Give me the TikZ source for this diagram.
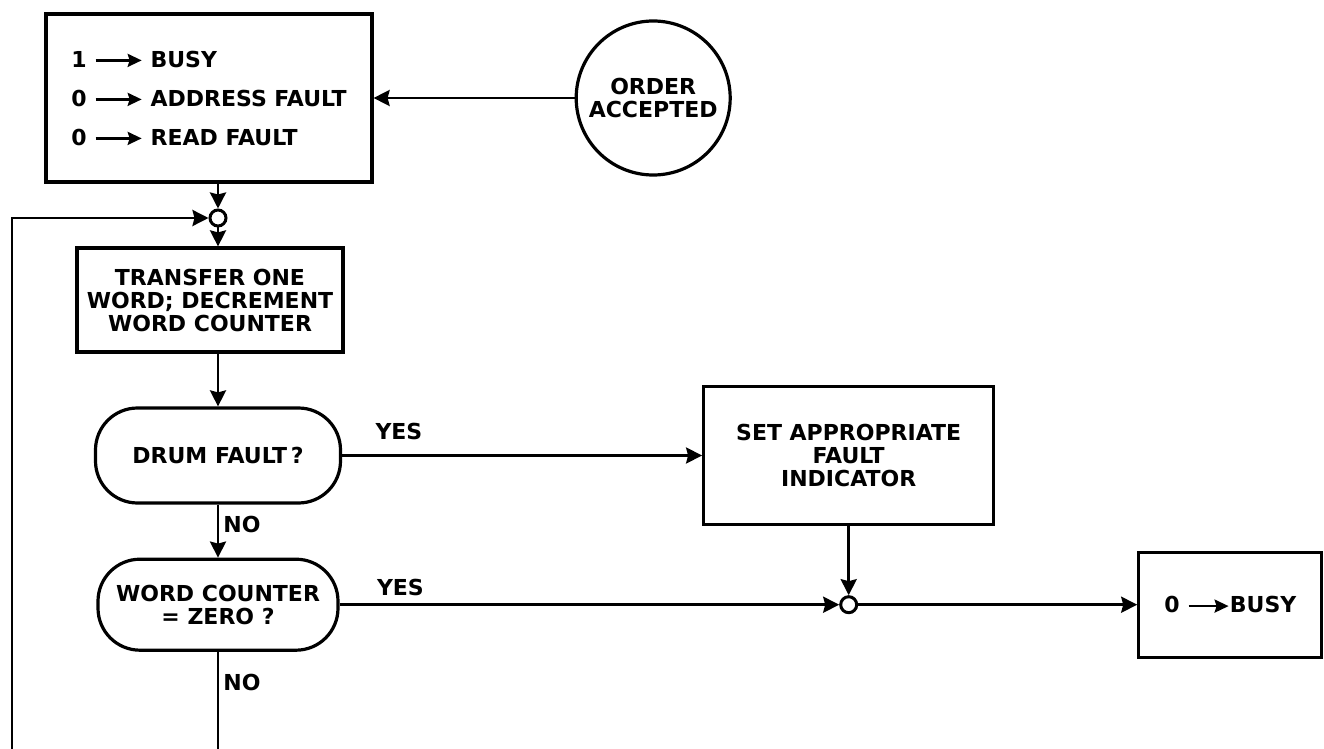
\documentclass[tikz,border=0pt]{standalone}
\usepackage{fontspec}
\setmainfont{DejaVu Sans}
\usepackage{tikz}
\usetikzlibrary{positioning,arrows.meta}

% small "set to" arrow used inside the boxes
\newcommand{\setto}[1][23pt]{\tikz[baseline=-0.55ex]\draw[line width=1.3pt,-{Stealth[length=7pt,width=6.5pt,inset=1pt]}] (0,0) -- (#1,0);}

\begin{document}
\begin{tikzpicture}[
  x=0.5pt, y=-0.5pt,
  every node/.append style={font=\bfseries\fontsize{11}{11.5}\selectfont},
  box/.style={draw, line width=1.6pt, align=center, inner sep=2pt},
  decision/.style={draw, line width=1.6pt, rounded corners=21pt, align=center},
  junction/.style={draw, circle, line width=1.5pt, minimum size=8pt, inner sep=0pt},
  flow/.style={line width=1.4pt, -{Stealth[length=8pt,width=8pt,inset=1pt]}},
  lbl/.style={inner sep=2pt},
  ]
  \clip (0,0) rectangle (1324,749);

  \node[box, minimum width=163pt, minimum height=84pt, align=left] (init) at (209,98)
        {1 \setto{} BUSY\\[8pt]0 \setto{} ADDRESS FAULT\\[8pt]0 \setto{} READ FAULT};
  \node[draw, circle, line width=1.6pt, minimum size=77pt, inner sep=0pt, align=center,
        right=100.5pt of init] (order) {ORDER\\ACCEPTED};

  \node[junction] (j1) at (218,218) {};
  \node[box, minimum width=133pt, minimum height=52pt] (xfer) at (210,300)
        {TRANSFER ONE\\WORD; DECREMENT\\WORD COUNTER};
  \node[decision, minimum width=122.5pt, minimum height=47.5pt] (drum) at (218,455.5)
        {DRUM FAULT\,?};
  \node[decision, minimum width=120pt, minimum height=45.5pt, below=26.5pt of drum]
        (wc) {WORD COUNTER\\= ZERO ?};

  \node[box, minimum width=145pt, minimum height=69pt, right=180pt of drum]
        (fault) {SET APPROPRIATE\\FAULT\\INDICATOR};
  \node[junction] (j2) at (fault |- wc) {};
  \node[box, minimum width=91.5pt, minimum height=52.5pt, right=139.5pt of j2]
        (clear) {0 \setto[20pt]BUSY};

  \coordinate (loopend) at (218,775);
  \coordinate (loopcorner) at (12,775);

  \draw[flow] (order) -- (init);
  \draw[flow] (init.south -| j1) -- (j1);
  \draw[flow] (j1) -- (j1 |- xfer.north);
  \draw[flow] (xfer.south -| drum) -- (drum);
  \draw[flow] (drum) -- node[lbl, anchor=south west, pos=0, xshift=14pt, yshift=5pt] {YES} (fault);
  \draw[flow] (drum) -- node[lbl, right, pos=0.38] {NO} (wc);
  \draw[flow] (wc) -- node[lbl, anchor=south west, pos=0, xshift=16pt, yshift=1.5pt] {YES} (j2);
  \draw[flow] (fault) -- (j2);
  \draw[flow] (j2) -- (clear);
  \draw[flow] (wc) -- node[lbl, right, pos=0.25] {NO} (loopend) -- (loopcorner) |- (j1);
\end{tikzpicture}
\end{document}
